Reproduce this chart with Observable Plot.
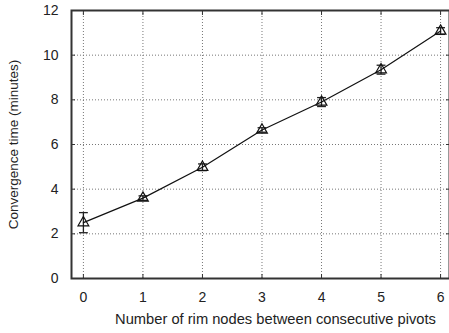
<!DOCTYPE html>
<html><head><meta charset="utf-8">
<script src="https://cdn.jsdelivr.net/npm/d3@7"></script>
<script src="https://cdn.jsdelivr.net/npm/@observablehq/plot@0.6"></script>
<style>body{margin:0;background:#fff;} svg{display:block;}</style>
</head><body><div id="chart"></div>
<script>
const nodes = [0, 1, 2, 3, 4, 5, 6];
const time = [2.5, 3.6, 4.98, 6.65, 7.9, 9.35, 11.08];
const err = [0.45, 0.1, 0.15, 0.1, 0.2, 0.2, 0.15];
const xTicks = [0, 1, 2, 3, 4, 5, 6];
const yTicks = [0, 2, 4, 6, 8, 10, 12];
const xLabel = "Number of rim nodes between consecutive pivots";
const yLabel = "Convergence time (minutes)";

const data = nodes.map((n, i) => ({n, t: time[i], lo: time[i] - err[i], hi: time[i] + err[i]}));
const cap = {draw(ctx, size) { const w = Math.sqrt(size); ctx.moveTo(-w, 0); ctx.lineTo(w, 0); }};
const font = "Liberation Sans, Arial, sans-serif";

const chart = Plot.plot({
  width: 449, height: 333,
  marginLeft: 71, marginRight: 0, marginTop: 10, marginBottom: 55,
  style: {fontFamily: font, fontSize: "14px", color: "#222", background: "#fff"},
  x: {domain: [-0.2, 6.15], ticks: xTicks},
  y: {domain: [0, 12], ticks: yTicks},
  marks: [
    Plot.gridX(xTicks, {stroke: "#777", strokeOpacity: 1, strokeDasharray: "1,2"}),
    Plot.gridY(yTicks, {stroke: "#777", strokeOpacity: 1, strokeDasharray: "1,2"}),
    Plot.axisX(xTicks, {tickSize: -4, tickPadding: 18, stroke: "#333", fontSize: 14, label: null}),
    Plot.text([xLabel], {frameAnchor: "bottom", dy: 45, dx: 15, fontSize: 14.7, fill: "#222"}),
    Plot.axisX(xTicks, {anchor: "top", tickSize: -4, text: null, label: null, stroke: "#333"}),
    Plot.axisY(yTicks, {tickSize: -4, tickPadding: 17, stroke: "#333", fontSize: 14, label: null}),
    Plot.text([yLabel], {frameAnchor: "left", textAnchor: "middle", dx: -58, dy: 0, rotate: -90, fontSize: 13.5, fill: "#222"}),
    Plot.axisY(yTicks, {anchor: "right", tickSize: -4, text: null, label: null, stroke: "#333"}),
    Plot.frame({stroke: "#333", strokeWidth: 2}),
    Plot.ruleX(data, {x: "n", y1: "lo", y2: "hi", stroke: "#222", strokeWidth: 1.3}),
    Plot.dot(data, {x: "n", y: "lo", symbol: cap, r: 2.5, stroke: "#222", strokeWidth: 1.3}),
    Plot.dot(data, {x: "n", y: "hi", symbol: cap, r: 2.5, stroke: "#222", strokeWidth: 1.3}),
    Plot.line(data, {x: "n", y: "t", stroke: "#111", strokeWidth: 1.2}),
    Plot.dot(data, {x: "n", y: "t", symbol: "triangle", r: 4, stroke: "#111", fill: "none", strokeWidth: 1.2})
  ]
});
document.getElementById("chart").appendChild(chart);
</script>
</body></html>
